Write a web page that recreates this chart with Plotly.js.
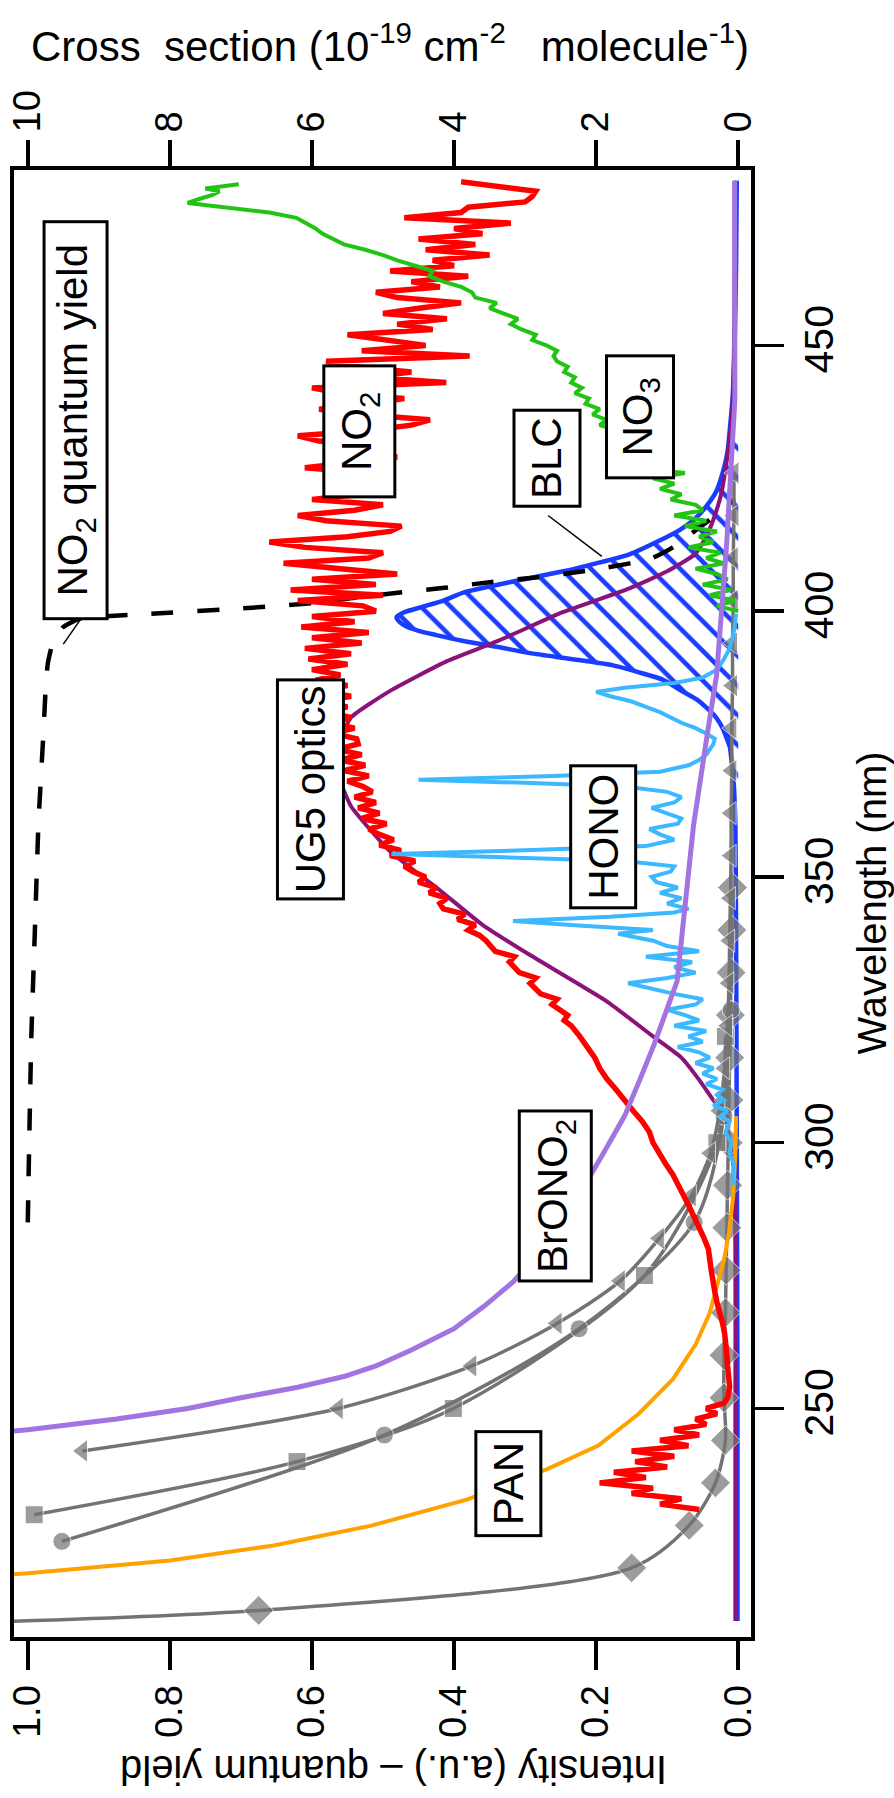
<!DOCTYPE html>
<html>
<head>
<meta charset="utf-8">
<script src="https://cdn.plot.ly/plotly-3.0.1.min.js"></script>
<style>
  html, body { margin: 0; padding: 0; background: #ffffff; }
  #chart { width: 894px; height: 1798px; }
</style>
</head>
<body>
<div id="chart"></div>
<script>
// ---------------- DATA (wavelength nm, value) ----------------
// Cross sections in 1e-19 cm^2 molecule^-1 (top axis)
const no2 = [[231,0.55],[232,1.1],[233,0.8],[234,1.5],[235,1.2],[236,1.95],[237,1.3],[238,1.75],[239,1.0],[240,1.45],[241,0.9],[242,1.5],[243,0.7],[244,1.1],[245,0.55],[246,0.9],[247,0.45],[248,0.6],[249,0.3],[250,0.45],[251,0.2],[252,0.15],[254,0.12],[256,0.14],[258,0.15],[260,0.16],[262,0.17],[264,0.19],[266,0.22],[268,0.27],[270,0.3],[272,0.33],[274,0.36],[276,0.38],[278,0.4],[280,0.42],[282,0.48],[284,0.56],[286,0.62],[288,0.69],[290,0.76],[292,0.84],[294,0.92],[296,1.02],[298,1.1],[300,1.2],[302,1.25],[304,1.35],[306,1.48],[308,1.59],[310,1.72],[312,1.85],[314,1.95],[316,2.02],[318,2.12],[320,2.23],[322,2.35],[323,2.45],[324,2.4],[326,2.62],[327,2.55],[328,2.78],[330,2.93],[331,2.85],[332,3.08],[334,3.22],[335,3.15],[336,3.42],[338,3.55],[339,3.64],[340,3.8],[341,3.7],[342,3.95],[343,3.85],[344,4.15],[345,4.2],[346,4.1],[347,4.35],[348,4.25],[349,4.5],[350,4.4],[351,4.58],[352,4.7],[353,4.55],[354,4.9],[355,4.75],[356,5.05],[357,4.85],[358,5.05],[359,5.2],[360,4.95],[361,5.3],[362,5.05],[363,5.35],[364,5.1],[365,5.4],[366,5.15],[367,5.28],[368,5.5],[369,5.2],[370,5.55],[371,5.25],[372,5.6],[373,5.3],[374,5.65],[375,5.35],[376,5.37],[377,5.7],[378,5.4],[379,5.75],[380,5.45],[381,5.8],[382,5.5],[383,5.85],[384,5.45],[385,5.9],[386,5.5],[387,5.95],[388,5.6],[389,6.0],[390,5.5],[391,6.05],[392,5.45],[393,6.1],[394,5.3],[395,6.0],[396,5.2],[397,6.15],[398,5.4],[399,6.0],[400,5.1],[401,5.28],[402,6.2],[403,5.0],[404,6.3],[405,5.1],[406,6.0],[407,4.8],[408,5.6],[409,6.4],[410,5.2],[411,5.0],[412,6.1],[413,6.6],[414,5.5],[415,4.9],[416,4.74],[417,5.8],[418,6.2],[419,5.4],[420,5.0],[421,6.0],[422,5.3],[423,5.0],[424,5.7],[425,4.9],[426,5.2],[427,6.1],[428,5.4],[429,4.8],[430,5.5],[431,5.0],[432,5.9],[433,6.2],[434,5.2],[435,4.6],[436,4.34],[437,5.3],[438,5.9],[439,5.2],[440,4.7],[441,5.6],[442,6.0],[443,4.11],[444,5.2],[445,4.6],[446,5.4],[447,5.8],[448,3.78],[449,5.3],[450,4.4],[451,5.0],[452,5.5],[453,4.3],[454,4.8],[455,4.1],[456,5.0],[457,4.5],[458,3.9],[459,4.8],[460,5.1],[461,4.2],[462,4.6],[463,3.8],[464,4.9],[465,4.0],[466,4.3],[467,3.5],[468,4.4],[469,3.7],[470,4.5],[471,3.6],[472,4.0],[473,3.2],[474,4.7],[475,3.9],[476,3.8],[477,3.0],[478,2.9],[479,2.85],[480.3,3.6],[480.8,3.9]];

const no3 = [[400,0.0],[401,0.3],[402,0.05],[403,0.4],[404,0.1],[405,0.5],[406,0.15],[407,0.3],[408,0.6],[409,0.2],[410,0.45],[411,0.25],[412,0.7],[413,0.35],[414,0.55],[415,0.3],[416,0.75],[417,0.45],[418,0.9],[419,0.5],[420,0.6],[421,0.95],[422,0.8],[423,1.1],[424,0.9],[425,1.2],[426,0.75],[427,1.45],[428,1.3],[429,1.6],[430,1.45],[431,1.75],[432,1.6],[433,1.85],[434,1.7],[435,1.95],[436,1.85],[437,2.05],[438,1.95],[439,2.15],[440,2.1],[441,2.3],[442,2.2],[443,2.35],[444,2.3],[445,2.45],[446,2.4],[447,2.55],[448,2.6],[449,2.55],[450,2.7],[451,2.9],[452,2.85],[453,3.05],[454,3.2],[455,3.1],[456,3.3],[457,3.5],[458,3.4],[459,3.7],[460,3.75],[461,3.9],[462,4.15],[463,4.35],[464,4.3],[465,4.55],[466,4.8],[467,5.0],[468,5.25],[469,5.55],[470,5.7],[471,5.85],[472,5.95],[473,6.1],[474,6.22],[475,6.6],[476,7.3],[476.8,7.75],[477.5,7.6],[478.3,7.4],[479,7.3],[479.5,7.5],[480.3,7.03]];

const hono = [[292,0.05],[294,0.08],[296,0.06],[298,0.12],[300,0.1],[302,0.18],[304,0.12],[305,0.25],[306,0.15],[307,0.35],[308,0.2],[309,0.3],[310,0.22],[311,0.45],[312,0.3],[313,0.5],[314,0.35],[315,0.6],[316,0.4],[317,0.55],[318,0.85],[319,0.5],[320,0.7],[321,0.45],[322,0.9],[323,0.55],[324,0.75],[325,1.0],[326,0.6],[327,0.5],[328,0.9],[329,1.2],[330,1.55],[331,1.0],[332,0.6],[333,0.9],[334,0.65],[335,1.3],[336,0.55],[337,1.0],[338,1.2],[339.3,1.69],[340,1.2],[340.8,2.2],[341.7,3.17],[342.5,1.8],[343.3,0.9],[344,0.7],[345,1.0],[346,0.8],[347,1.1],[348,0.85],[349,1.15],[350,1.22],[351,0.95],[352,0.9],[353,1.6],[353.7,3.3],[354.3,4.88],[355,3.0],[355.8,1.3],[357,0.9],[358,1.1],[359,1.25],[360,0.85],[361,0.8],[362,1.0],[363,1.22],[364,0.9],[365,0.8],[366,1.0],[367,1.6],[367.7,3.0],[368.3,4.5],[369,2.6],[369.8,1.1],[371,0.7],[372,0.55],[373,0.45],[374,0.4],[375,0.35],[376,0.33],[377,0.45],[378,0.6],[379,0.8],[380,0.95],[381,1.1],[382,1.3],[383,1.5],[384,1.8],[384.8,2.0],[385.6,1.6],[386.5,0.9],[387.5,0.5],[389,0.3],[391,0.2],[393,0.12],[395,0.08],[397,0.05],[399.5,0.03]];

const pan = [[216,13.0],[219,10.0],[221.4,8.0],[224.2,6.54],[227.9,5.18],[232.9,3.81],[238.6,2.69],[243,1.97],[249,1.4],[255.5,0.92],[262,0.6],[268,0.4],[272,0.32],[278,0.2],[283,0.13],[290,0.07],[298,0.04],[305,0.03]];

const brono2 = [[244,11.5],[246,10.0],[248,8.75],[250,7.75],[252,7.0],[254,6.2],[256,5.55],[258,5.1],[261,4.6],[265,4.0],[269.3,3.57],[273.8,3.17],[280,2.75],[290,2.25],[297.5,1.92],[305,1.6],[312,1.38],[318.6,1.18],[330.4,0.86],[345,0.74],[359.6,0.63],[376,0.445],[388,0.304],[400,0.235],[412.6,0.163],[425,0.11],[439.8,0.047],[460,0.05],[481,0.05]];

// gray cross-section series with markers
const grayDiamond = [[209,12.8],[212,6.75],[220,1.5],[228,0.69],[236,0.32],[244,0.18],[252,0.2],[260,0.2],[268,0.18],[276,0.17],[284,0.16],[292,0.15],[300,0.14],[308,0.13],[316,0.12],[324,0.11],[332,0.1],[340,0.09],[348,0.08]];
const graySquare = [[230,9.91],[240,6.21],[250,4.01],[275,1.32],[300,0.3],[320,0.18]];
const grayCircle = [[225,9.52],[245,4.98],[265,2.24],[285,0.62],[305,0.2],[325,0.1]];
const grayTriangle = [[242,9.23],[250,5.63],[258,3.75],[266,2.55],[274,1.66],[282,1.11],[290,0.66],[298,0.39],[306,0.26],[314,0.19],[322,0.15],[330,0.13],[338,0.12],[346,0.11],[354,0.1],[362,0.1],[370,0.09],[378,0.09],[386,0.08],[394,0.08],[402,0.07],[410,0.07],[418,0.06],[426,0.06]];

// Intensity (a.u.) / quantum yield (bottom axis)
const blc = [[210,0.001],[250,0.001],[300,0.002],[340,0.003],[360,0.004],[364,0.005],[367,0.006],[370,0.008],[372,0.0095],[374.4,0.0117],[376,0.016],[378,0.022],[379.8,0.03],[381.5,0.042],[383.4,0.0586],[385,0.08],[387.1,0.106],[388.5,0.14],[389.8,0.176],[391,0.235],[392.1,0.293],[393.3,0.34],[394.4,0.387],[395.5,0.425],[396.3,0.45],[397.1,0.467],[398,0.477],[398.9,0.481],[399.8,0.47],[400.8,0.445],[402,0.415],[403.5,0.387],[405.5,0.32],[407.5,0.246],[409,0.2],[410.7,0.153],[413,0.115],[415.3,0.082],[417.5,0.06],[419.8,0.0445],[422.5,0.031],[426.2,0.0215],[430,0.015],[434.4,0.0117],[440,0.008],[450,0.005],[465,0.003],[481,0.002]];

const ug5 = [[210,0.004],[250,0.004],[280,0.004],[295,0.006],[300,0.012],[305,0.018],[308,0.035],[312,0.056],[316,0.08],[320,0.12],[326.6,0.185],[335.3,0.293],[341,0.36],[347.5,0.42],[354.8,0.49],[363.3,0.545],[368,0.56],[372,0.565],[376,0.56],[380,0.545],[385,0.49],[390.6,0.41],[394.3,0.34],[399.8,0.247],[404.3,0.153],[407.5,0.1],[410.7,0.061],[414,0.045],[417,0.0356],[422,0.024],[428,0.0165],[434,0.011],[440,0.0075],[450,0.006],[465,0.005],[481,0.005]];

const no2QuantumYield = [[285,1.0],[300,0.998],[320,0.995],[340,0.99],[360,0.985],[377,0.978],[385,0.975],[390,0.972],[394,0.965],[396.9,0.951],[398.6,0.927],[399.5,0.83],[400.5,0.7],[401.5,0.6],[402.5,0.54],[403.5,0.4765],[404.4,0.413],[405.5,0.347],[406.4,0.282],[407.5,0.218],[408.2,0.185],[409.8,0.124],[412,0.092],[414.4,0.068],[417,0.042],[419.4,0.021],[421,0.005]];

// tick values
const intensityTicks = [0, 0.2, 0.4, 0.6, 0.8, 1.0];
const intensityTickText = ['0.0','0.2','0.4','0.6','0.8','1.0'];
const crossTicks = [0, 2, 4, 6, 8, 10];
const wavelengthTicks = [250, 300, 350, 400, 450];

// ---------------- LAYOUT / STYLE ----------------
const FONT = 'Liberation Sans, Arial, Helvetica, sans-serif';
const wl = d => d.map(p => p[0]);
const val = d => d.map(p => p[1]);

const C = {
  red: '#ff0000', green: '#22c414', blue: '#1a3cff', lightblue: '#3cb8ff',
  purple: '#8a1279', lavender: '#a274e2', orange: '#ffa200', gray: '#737373'
};

function csLine(d, color, width) {
  return { x: val(d), y: wl(d), xaxis: 'x2', yaxis: 'y', type: 'scatter', mode: 'lines',
           line: { color: color, width: width }, hoverinfo: 'skip', showlegend: false };
}
function grayLine(d, symbol, size, firstHidden) {
  return { x: val(d), y: wl(d), xaxis: 'x2', yaxis: 'y', type: 'scatter', mode: 'lines+markers',
           line: { color: C.gray, width: 3.5, shape: 'spline', smoothing: 0.8 },
           marker: { symbol: symbol, color: C.gray, size: d.map((p, i) => (firstHidden && i === 0) ? 0 : size) },
           hoverinfo: 'skip', showlegend: false };
}

const blcPeak = blc.filter(p => p[0] >= 366 && p[0] <= 436);

const traces = [
  // hatched BLC area
  { x: val(blcPeak), y: wl(blcPeak), xaxis: 'x', yaxis: 'y', type: 'scatter', mode: 'none',
    fill: 'tozerox', fillcolor: 'rgba(0,0,0,0)',
    fillpattern: { shape: '\\', size: 21, solidity: 0.22, fgcolor: C.blue, bgcolor: 'rgba(0,0,0,0)' },
    hoverinfo: 'skip', showlegend: false },
  // BLC line
  { x: val(blc), y: wl(blc), xaxis: 'x', yaxis: 'y', type: 'scatter', mode: 'lines',
    line: { color: C.blue, width: 4.5, shape: 'spline', smoothing: 0.6 }, hoverinfo: 'skip', showlegend: false },
  grayLine(grayDiamond, 'diamond', 23, true),
  grayLine(graySquare, 'square', 18, false),
  grayLine(grayCircle, 'circle', 18, false),
  grayLine(grayTriangle, 'triangle-left', 20, false),
  csLine(pan, C.orange, 4),
  csLine(no2, C.red, 5.5),
  csLine(no3, C.green, 4),
  csLine(hono, C.lightblue, 4),
  { x: val(ug5), y: wl(ug5), xaxis: 'x', yaxis: 'y', type: 'scatter', mode: 'lines',
    line: { color: C.purple, width: 4, shape: 'spline', smoothing: 0.5 }, hoverinfo: 'skip', showlegend: false },
  csLine(brono2, C.lavender, 5),
  { x: val(no2QuantumYield), y: wl(no2QuantumYield), xaxis: 'x', yaxis: 'y', type: 'scatter', mode: 'lines',
    line: { color: '#000000', width: 4.5, dash: '22px,24px', shape: 'spline', smoothing: 0.4 }, hoverinfo: 'skip', showlegend: false }
];

// plot area in pixels: left 14, right 751, top 170, bottom 1637
const M = { l: 14, r: 143, t: 170, b: 161 };
const PW = 894 - M.l - M.r, PH = 1798 - M.t - M.b;
const px2paperX = px => (px - M.l) / PW;
const px2paperY = py => 1 - (py - M.t) / PH;

const labels = [
  { text: 'NO<sub>2</sub> quantum yield', v: 0.933, w: 436, L: 400, T: 66 },
  { text: 'NO<sub>2</sub>', v: 0.534, w: 433.8, L: 134, T: 74 },
  { text: 'BLC', v: 0.269, w: 428.7, L: 99, T: 69 },
  { text: 'NO<sub>3</sub>', v: 0.138, w: 436.5, L: 125, T: 70 },
  { text: 'UG5 optics', v: 0.6025, w: 366.5, L: 222, T: 69 },
  { text: 'HONO', v: 0.19, w: 357.5, L: 145, T: 68 },
  { text: 'BrONO<sub>2</sub>', v: 0.257, w: 290, L: 173, T: 75 },
  { text: 'PAN', v: 0.323, w: 235.9, L: 107, T: 68 }
];

const annotations = labels.map(l => ({
  x: l.v, y: l.w, xref: 'x', yref: 'y', text: l.text, textangle: -90, showarrow: false,
  font: { family: FONT, size: 42, color: '#000' }, bgcolor: '#ffffff',
  bordercolor: '#000000', borderwidth: 3, borderpad: 0, width: l.L - 6, height: l.T - 6,
  xanchor: 'center', yanchor: 'middle', align: 'center', valign: 'middle'
}));

annotations.push(
  { xref: 'paper', yref: 'paper', x: px2paperX(390), y: px2paperY(72), xanchor: 'center', yanchor: 'bottom',
    text: 'Cross&nbsp;&nbsp;section (10<sup>-19</sup> cm<sup>-2</sup>&nbsp;&nbsp; molecule<sup>-1</sup>)', showarrow: false,
    font: { family: FONT, size: 42, color: '#000' } },
  { xref: 'paper', yref: 'paper', x: px2paperX(394), y: px2paperY(1770), xanchor: 'center', yanchor: 'middle',
    text: 'Intensity (a.u.) \u2013 quantum yield', textangle: 180, showarrow: false,
    font: { family: FONT, size: 40, color: '#000' } },
  { xref: 'paper', yref: 'paper', x: px2paperX(871), y: 0.5, xanchor: 'center', yanchor: 'middle',
    text: 'Wavelength (nm)', textangle: -90, showarrow: false,
    font: { family: FONT, size: 40, color: '#000' } }
);

const leaders = [
  [[0.2676, 418], [0.192, 410.3]],
  [[0.925, 398.6], [0.95, 393.8]]
];
const shapes = leaders.map(s => ({ type: 'line', xref: 'x', yref: 'y', x0: s[0][0], y0: s[0][1], x1: s[1][0], y1: s[1][1],
  line: { color: '#000', width: 1.5 } }));

const axisCommon = {
  showgrid: false, zeroline: false, ticks: 'outside', ticklen: 29, tickwidth: 3.5, tickcolor: '#000',
  tickangle: -90, fixedrange: true
};

const layout = {
  width: 894, height: 1798, margin: M,
  paper_bgcolor: '#ffffff', plot_bgcolor: '#ffffff',
  font: { family: FONT, color: '#000' },
  showlegend: false,
  xaxis: Object.assign({}, axisCommon, {
    range: [1.0194, -0.018], side: 'bottom', anchor: 'y',
    tickmode: 'array', tickvals: intensityTicks, ticktext: intensityTickText,
    tickfont: { family: FONT, size: 38, color: '#000' },
    showline: true, mirror: true, linewidth: 4, linecolor: '#000'
  }),
  xaxis2: Object.assign({}, axisCommon, {
    range: [10.194, -0.18], side: 'top', overlaying: 'x', anchor: 'y',
    tickmode: 'array', tickvals: crossTicks,
    tickfont: { family: FONT, size: 38, color: '#000' },
    showline: false
  }),
  yaxis: Object.assign({}, axisCommon, {
    range: [207, 483], side: 'right', anchor: 'x',
    tickmode: 'array', tickvals: wavelengthTicks,
    tickfont: { family: FONT, size: 41, color: '#000' },
    showline: true, mirror: true, linewidth: 4, linecolor: '#000'
  }),
  annotations: annotations,
  shapes: shapes
};

Plotly.newPlot('chart', traces, layout, { staticPlot: true, displayModeBar: false });
</script>
</body>
</html>
